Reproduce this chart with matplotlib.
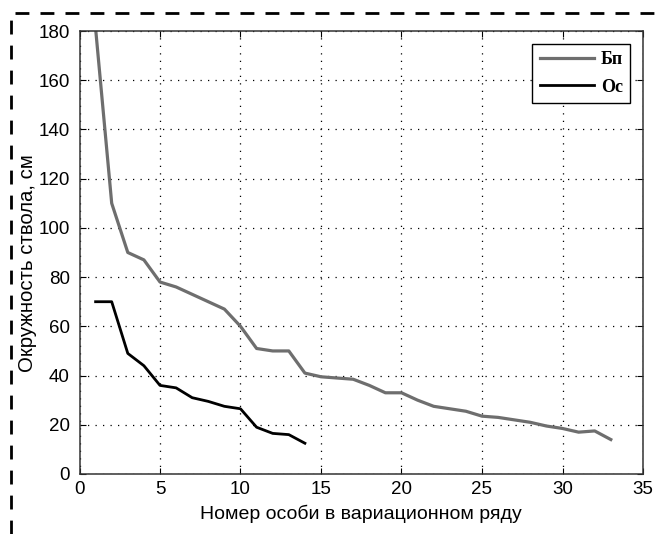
import numpy as np
import matplotlib
matplotlib.use("Agg")
import matplotlib.pyplot as plt
from matplotlib.lines import Line2D

# ranked individuals
x_bp = list(range(1, 34))
bp = [181, 110, 90, 87, 78, 76, 73, 70, 67, 60, 51, 50, 50, 41, 39.5, 39, 38.5,
      36, 33, 33, 30, 27.5, 26.5, 25.5, 23.5, 23, 22, 21, 19.5, 18.5, 17, 17.5, 14]
x_os = list(range(1, 15))
os_ = [70, 70, 49, 44, 36, 35, 31, 29.5, 27.5, 26.5, 19, 16.5, 16, 12.5]

labels = ["Бп", "Ос"]
xticks = [0, 5, 10, 15, 20, 25, 30, 35]
yticks = [0, 20, 40, 60, 80, 100, 120, 140, 160, 180]

plt.rcParams['font.family'] = ['Liberation Sans', 'DejaVu Sans']

fig = plt.figure(figsize=(6.58, 5.34), dpi=100)
ax = fig.add_axes([79.5/658, 1-474/534, (643-79.5)/658, (474-31)/534])

ax.plot(x_bp, bp, color="#6e6e6e", lw=2.3, label=labels[0])
ax.plot(x_os, os_, color="black", lw=2.0, label=labels[1])

ax.set_xlim(0, 35)
ax.set_ylim(0, 180)
ax.set_xticks(xticks)
ax.set_yticks(yticks)
ax.tick_params(direction="in", top=True, right=True, labelsize=13.5, length=4)
ax.tick_params(axis="y", pad=7)
ax.tick_params(axis="x", pad=5)
ax.grid(True, color="black", linestyle=(0, (1, 5)), linewidth=0.9)
for s in ax.spines.values():
    s.set_linewidth(1.1)
    s.set_color("#333333")

ax.set_xlabel("Номер особи в вариационном ряду", fontsize=14, labelpad=5)
ax.set_ylabel("Окружность ствола, см", fontsize=14.7)
ax.yaxis.set_label_coords(-0.075, 0.475)

leg = ax.legend(loc="upper right", prop={"family": "Liberation Serif", "weight": "bold", "size": 13},
                fancybox=False, framealpha=1, edgecolor="black", handlelength=3.0,
                borderaxespad=0.7, handletextpad=0.4, labelspacing=0.6)
leg.get_frame().set_linewidth(1.0)

# dashed frame (left and top edges)
fig.add_artist(Line2D([11/658, 11/658, 1], [0, 1-13/534, 1-13/534],
                      transform=fig.transFigure, color="black", lw=2,
                      linestyle=(0, (5, 4))))

fig.savefig("out.png", dpi=100)
